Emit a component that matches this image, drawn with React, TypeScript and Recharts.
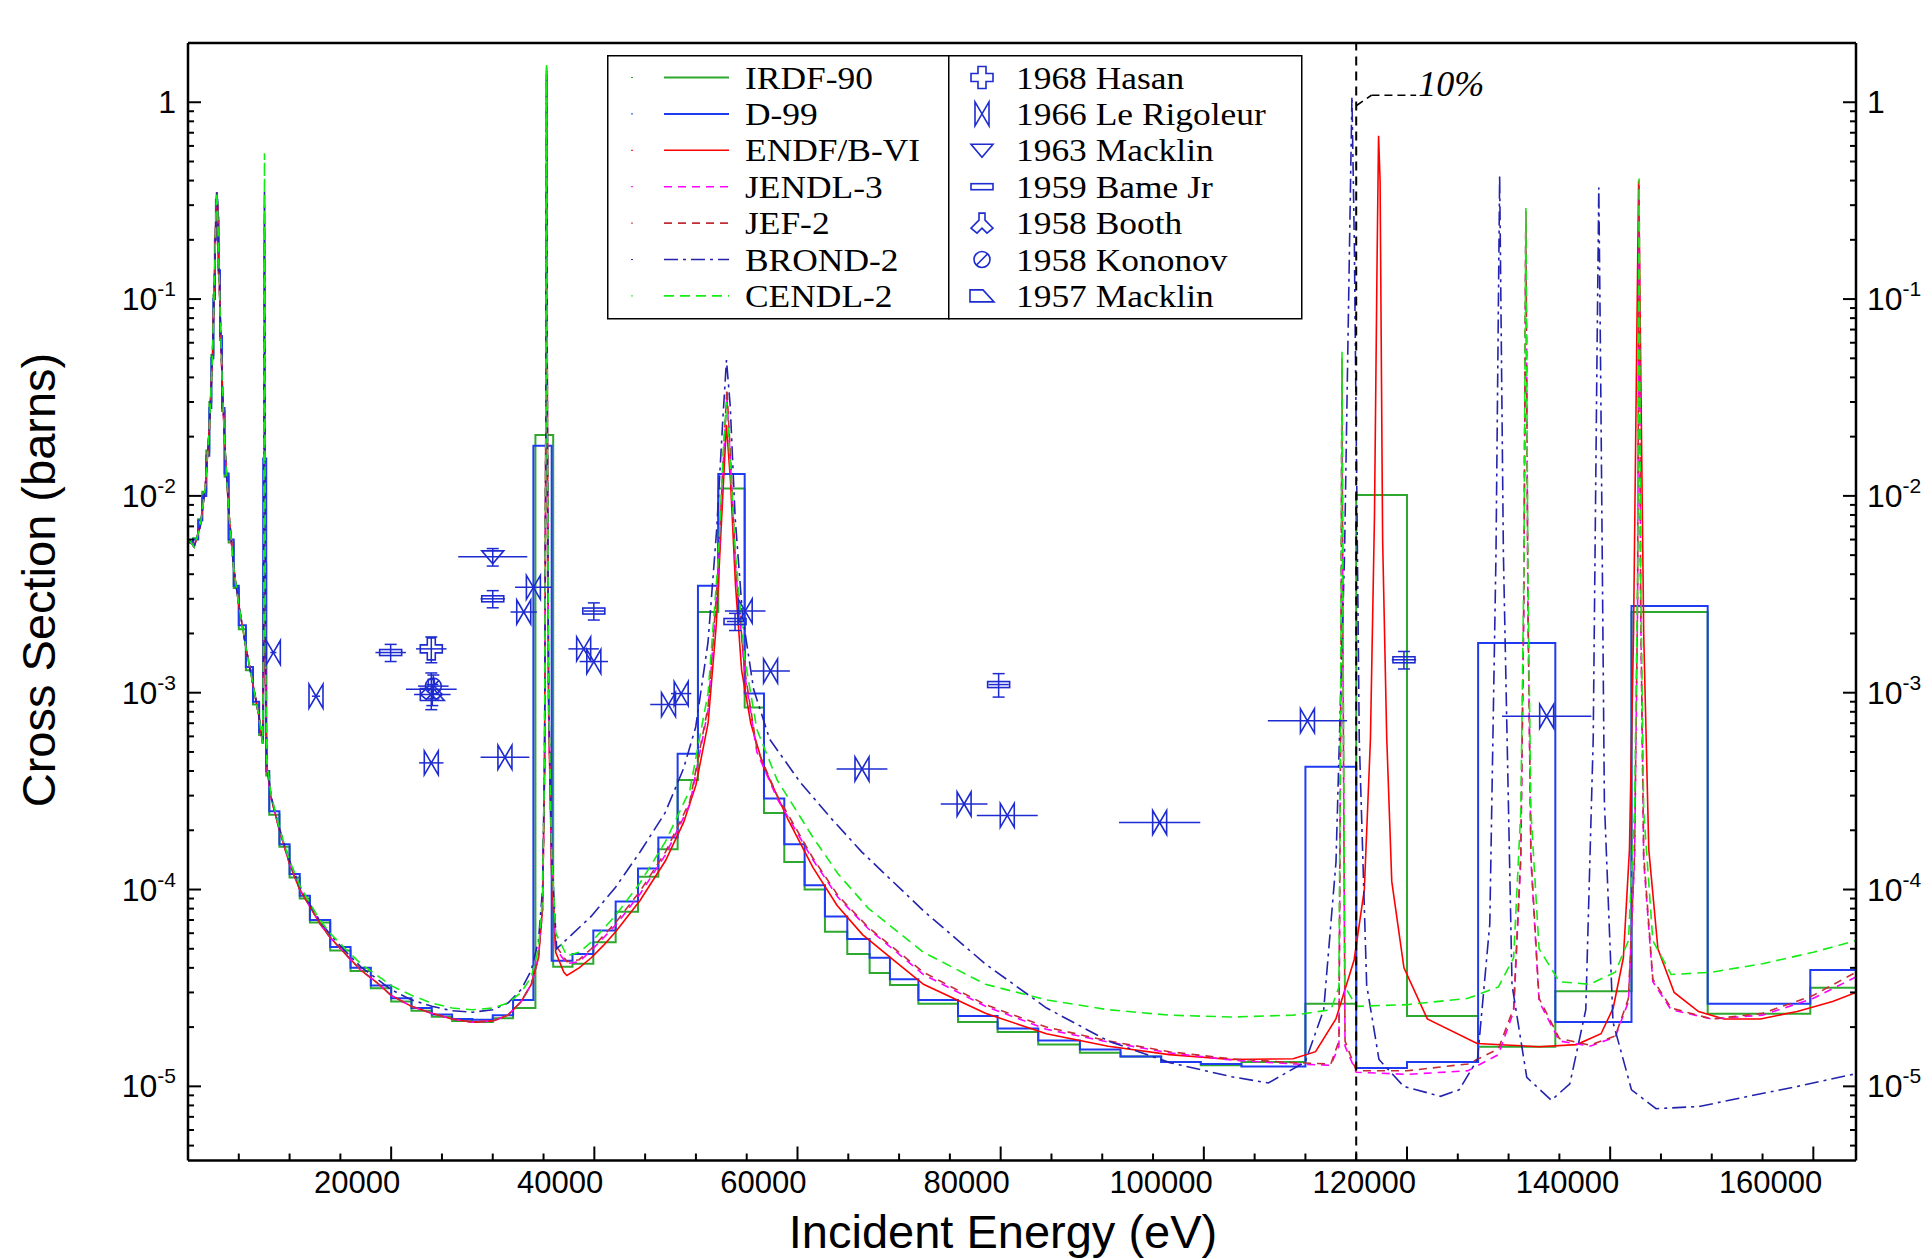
import React from "react";
import {
  ComposedChart,
  Line,
  Scatter,
  XAxis,
  YAxis,
  ErrorBar,
  ReferenceLine,
  Legend,
} from "recharts";

type Pt = [number, number];
type Exp = [number, number, number, number];

// energies in eV, cross sections in barns
const firstResonance: Pt[] = [
  [100, 6.0e-3], [600, 5.5e-3], [1200, 7.0e-3], [1700, 1.1e-2], [2100, 2.2e-2],
  [2400, 5.0e-2], [2600, 0.12], [2750, 0.27], [2830, 0.35], [2900, 0.3],
  [3000, 0.19], [3150, 0.09], [3350, 0.04], [3600, 0.019], [4000, 8.5e-3],
  [4500, 4.3e-3], [5000, 2.8e-3], [5700, 1.7e-3], [6400, 1.1e-3], [7000, 7.5e-4],
  [7350, 5.5e-4],
];

const valleyLow: Pt[] = [
  [8200, 2.9e-4], [9000, 2.0e-4], [10000, 1.35e-4], [11000, 1.0e-4], [12000, 8.2e-5],
  [13000, 6.7e-5], [14000, 5.7e-5], [15500, 4.7e-5], [17000, 3.9e-5], [18500, 3.4e-5],
  [20000, 2.9e-5], [22000, 2.55e-5], [24000, 2.35e-5], [26000, 2.2e-5], [28000, 2.12e-5],
  [30000, 2.15e-5], [31500, 2.3e-5], [32800, 2.7e-5], [33800, 3.3e-5], [34500, 4.5e-5],
  [34900, 8e-5], [35100, 4e-4], [35220, 0.02],
];

const endfHigh: Pt[] = [
  [35300, 1.5], [35380, 0.02], [35500, 8e-4], [35800, 1.2e-4], [36200, 4.8e-5],
  [37000, 3.8e-5], [37300, 3.66e-5], [38500, 4.0e-5], [39700, 4.5e-5], [40900, 5.2e-5],
  [42100, 6.1e-5], [44500, 8.8e-5], [47000, 1.4e-4], [48800, 2.2e-4], [50000, 3.4e-4],
  [51200, 7e-4], [52000, 2.2e-3], [52600, 9e-3], [53000, 0.023], [53400, 0.012],
  [53900, 3.5e-3], [54500, 1.3e-3], [55400, 7e-4], [56600, 4.3e-4], [59100, 2.25e-4],
  [61500, 1.3e-4], [63900, 8.3e-5], [66400, 5.9e-5], [69400, 4.4e-5], [72400, 3.3e-5],
  [78500, 2.35e-5], [84500, 1.85e-5], [90600, 1.6e-5], [96600, 1.45e-5], [102700, 1.37e-5],
  [108800, 1.38e-5], [111000, 1.5e-5], [113000, 2.2e-5], [114800, 4.4e-5], [115800, 1.0e-4],
  [116400, 5.8e-4], [116800, 8e-3], [117050, 0.15], [117200, 0.675], [117350, 0.4],
  [117600, 6e-3], [118000, 6e-4], [118500, 1.1e-4], [119700, 4e-5], [122000, 2.2e-5],
  [126900, 1.65e-5], [133000, 1.59e-5], [136700, 1.63e-5], [139100, 1.85e-5], [140300, 2.5e-5],
  [141300, 4.5e-5], [141900, 1.6e-4], [142300, 2e-3], [142600, 0.05], [142800, 0.4],
  [143000, 0.05], [143300, 2e-3], [143800, 1.6e-4], [144700, 5e-5], [146300, 3.0e-5],
  [148700, 2.4e-5], [151200, 2.2e-5], [154800, 2.2e-5], [158400, 2.4e-5], [161900, 2.7e-5],
  [164200, 3.0e-5],
];

const endfSpike: Pt[] = [[7450, 1.5e-3], [7530, 0.2], [7610, 1.5e-3], [7750, 4.2e-4]];
const jefSpike: Pt[] = [[7450, 1.6e-3], [7530, 0.3], [7610, 1.6e-3], [7750, 4.3e-4]];
const jendlSpike: Pt[] = [[7450, 1.5e-3], [7530, 0.25], [7610, 1.5e-3], [7750, 4.2e-4]];
const cendlSpike: Pt[] = [[7450, 2e-3], [7530, 0.55], [7610, 2e-3], [7750, 4.5e-4]];
const brondSpike: Pt[] = [[7450, 1.8e-3], [7530, 0.35], [7610, 1.8e-3], [7750, 4.4e-4]];

const jefHigh: Pt[] = [
  [35300, 1.45], [35380, 0.02], [35500, 9e-4], [35800, 1.3e-4], [36200, 5.2e-5],
  [37300, 4.3e-5], [38500, 4.4e-5], [39700, 5.0e-5], [42100, 6.8e-5], [44500, 9.8e-5],
  [47000, 1.55e-4], [49400, 2.8e-4], [51200, 8.5e-4], [52200, 4.2e-3], [52700, 0.016],
  [53050, 0.035], [53400, 0.016], [53900, 4.5e-3], [54800, 1.3e-3], [56000, 5.2e-4],
  [58000, 3.0e-4], [61500, 1.45e-4], [64000, 9.3e-5], [67000, 6.4e-5], [72400, 3.8e-5],
  [78500, 2.6e-5], [84500, 2.0e-5], [90600, 1.7e-5], [96600, 1.5e-5], [102700, 1.38e-5],
  [108800, 1.32e-5], [112500, 1.3e-5], [113300, 1.7e-5], [113500, 1.5e-3], [113600, 0.05],
  [113700, 1.5e-3], [113900, 1.7e-5], [115000, 1.2e-5], [120000, 1.2e-5], [126000, 1.3e-5],
  [129000, 1.55e-5], [130500, 2.5e-5], [131200, 1.5e-4], [131500, 3e-3], [131700, 0.28],
  [131900, 3e-3], [132200, 1.5e-4], [133000, 2.8e-5], [135000, 1.75e-5], [138000, 1.62e-5],
  [140500, 1.8e-5], [141800, 2.8e-5], [142400, 1.5e-4], [142700, 3e-3], [142850, 0.38],
  [143000, 3e-3], [143300, 1.5e-4], [144200, 3.5e-5], [146000, 2.5e-5], [150000, 2.2e-5],
  [155000, 2.35e-5], [160000, 2.9e-5], [164200, 3.8e-5],
];

const jendlHigh: Pt[] = [
  [35300, 1.4], [35380, 0.02], [35500, 9e-4], [35800, 1.3e-4], [36200, 5.0e-5],
  [37300, 4.2e-5], [38500, 4.3e-5], [39700, 4.9e-5], [42100, 6.6e-5], [44500, 9.5e-5],
  [47000, 1.5e-4], [49400, 2.7e-4], [51200, 8.2e-4], [52200, 4e-3], [52700, 0.015],
  [53050, 0.032], [53400, 0.015], [53900, 4.3e-3], [54800, 1.25e-3], [56000, 5.0e-4],
  [58000, 2.9e-4], [61500, 1.42e-4], [64000, 9.1e-5], [67000, 6.3e-5], [72400, 3.7e-5],
  [78500, 2.55e-5], [84500, 1.95e-5], [90600, 1.68e-5], [96600, 1.48e-5], [102700, 1.36e-5],
  [108800, 1.3e-5], [112500, 1.28e-5], [113300, 1.6e-5], [113500, 1.4e-3], [113600, 0.045],
  [113700, 1.4e-3], [113900, 1.6e-5], [115000, 1.18e-5], [120000, 1.15e-5], [126000, 1.2e-5],
  [129000, 1.45e-5], [130500, 2.4e-5], [131200, 1.4e-4], [131500, 2.8e-3], [131700, 0.26],
  [131900, 2.8e-3], [132200, 1.4e-4], [133000, 2.7e-5], [135000, 1.7e-5], [138000, 1.6e-5],
  [140500, 1.78e-5], [141800, 2.7e-5], [142400, 1.4e-4], [142700, 2.8e-3], [142850, 0.36],
  [143000, 2.8e-3], [143300, 1.4e-4], [144200, 3.4e-5], [146000, 2.45e-5], [150000, 2.2e-5],
  [155000, 2.3e-5], [160000, 2.8e-5], [164200, 3.6e-5],
];

const cendlValley: Pt[] = [
  [8200, 3.0e-4], [9000, 2.05e-4], [10000, 1.4e-4], [11000, 1.05e-4], [12000, 8.5e-5],
  [13000, 7.0e-5], [14000, 6.0e-5], [15500, 5.0e-5], [17000, 4.2e-5], [18500, 3.7e-5],
  [20000, 3.25e-5], [22000, 2.9e-5], [24000, 2.65e-5], [26000, 2.5e-5], [28000, 2.45e-5],
  [30000, 2.5e-5], [31500, 2.65e-5], [32800, 3.0e-5], [33800, 3.6e-5], [34500, 5e-5],
  [34900, 9e-5], [35100, 4.5e-4], [35220, 0.02],
];

const cendlHigh: Pt[] = [
  [35300, 1.55], [35380, 0.022], [35500, 1e-3], [35800, 1.5e-4], [36200, 6e-5],
  [37300, 4.6e-5], [38500, 4.8e-5], [39700, 5.4e-5], [42100, 7.4e-5], [44500, 1.08e-4],
  [47000, 1.75e-4], [49400, 3.2e-4], [51200, 1.0e-3], [52200, 4.8e-3], [52700, 0.017],
  [53000, 0.03], [53300, 0.017], [53900, 5e-3], [54800, 1.5e-3], [56000, 6.5e-4],
  [58000, 3.6e-4], [61500, 1.85e-4], [64000, 1.2e-4], [67000, 8.0e-5], [72400, 4.8e-5],
  [78500, 3.3e-5], [84500, 2.75e-5], [90600, 2.45e-5], [96600, 2.3e-5], [102700, 2.25e-5],
  [108800, 2.3e-5], [112500, 2.45e-5], [113300, 3.2e-5], [113500, 2e-3], [113600, 0.054],
  [113700, 2e-3], [113900, 3.2e-5], [115000, 2.55e-5], [120000, 2.6e-5], [126000, 2.8e-5],
  [129000, 3.2e-5], [130500, 4.5e-5], [131200, 2.5e-4], [131500, 4e-3], [131700, 0.29],
  [131900, 4e-3], [132200, 2.5e-4], [133000, 5e-5], [135000, 3.4e-5], [138000, 3.3e-5],
  [140500, 3.8e-5], [141800, 5.5e-5], [142400, 2.5e-4], [142700, 4e-3], [142850, 0.41],
  [143000, 4e-3], [143300, 2.5e-4], [144200, 5.5e-5], [146000, 3.7e-5], [150000, 3.8e-5],
  [155000, 4.2e-5], [160000, 4.8e-5], [164200, 5.5e-5],
];

const brondValley: Pt[] = [
  [8200, 2.95e-4], [9000, 2.05e-4], [10000, 1.4e-4], [11000, 1.04e-4], [12000, 8.4e-5],
  [13000, 6.9e-5], [14000, 5.9e-5], [15500, 4.85e-5], [17000, 4.05e-5], [18500, 3.55e-5],
  [20000, 3.1e-5], [22000, 2.75e-5], [24000, 2.55e-5], [26000, 2.42e-5], [28000, 2.38e-5],
  [30000, 2.45e-5], [31500, 2.65e-5], [32800, 3.1e-5], [33800, 3.9e-5], [34500, 5.5e-5],
  [34900, 1e-4], [35100, 4.5e-4], [35220, 0.02],
];

const brondHigh: Pt[] = [
  [35300, 1.4], [35380, 0.02], [35500, 1e-3], [35800, 1.5e-4], [36290, 5.0e-5],
  [39680, 7.3e-5], [42110, 1.03e-4], [44530, 1.56e-4], [46960, 2.45e-4], [48770, 4.1e-4],
  [49980, 6.7e-4], [51190, 1.8e-3], [52040, 6.7e-3], [52650, 0.0245], [53010, 0.049],
  [53380, 0.0285], [53860, 7.8e-3], [54590, 2.46e-3], [55680, 1.04e-3], [57260, 5.8e-4],
  [60280, 3.5e-4], [63310, 2.3e-4], [66340, 1.55e-4], [72400, 7.8e-5], [78460, 4.2e-5],
  [84520, 2.5e-5], [90580, 1.7e-5], [96640, 1.32e-5], [102700, 1.12e-5], [106350, 1.04e-5],
  [109980, 1.33e-5], [111800, 2.45e-5], [113010, 1.38e-4], [113850, 5.06e-3], [114340, 0.185],
  [114580, 1.07], [114820, 0.185], [115300, 5.8e-4], [116030, 3.27e-5], [117240, 1.37e-5],
  [119670, 1.0e-5], [123300, 8.9e-6], [125130, 9.6e-6], [126940, 1.37e-5], [128150, 6.7e-5],
  [128760, 5.06e-3], [129120, 0.425], [129490, 5.06e-3], [130340, 3.27e-5], [131790, 1.11e-5],
  [134210, 8.5e-6], [136030, 1.03e-5], [137600, 2.45e-5], [138330, 5.8e-4], [138690, 0.044],
  [138880, 0.369], [139060, 0.044], [139430, 2.8e-4], [140280, 2.12e-5], [142100, 9.6e-6],
  [144520, 7.7e-6], [148760, 7.9e-6], [153610, 8.9e-6], [158460, 1.0e-5], [164200, 1.16e-5],
];

// group-wise data: [lower bin edge, value]; last entry closes the final bin
const d99Groups: Pt[] = [
  [0, 5.8e-3], [500, 6.0e-3], [1000, 7.5e-3], [1400, 1.0e-2], [1800, 1.6e-2], [2100, 2.8e-2],
  [2300, 5e-2], [2500, 0.1], [2650, 0.2], [2750, 0.32], [2900, 0.26], [3000, 0.14],
  [3150, 0.065], [3350, 0.028], [3600, 0.013], [4000, 6e-3], [4500, 3.5e-3], [5000, 2.2e-3],
  [5700, 1.35e-3], [6400, 9e-4], [7000, 6.3e-4], [7400, 0.0155], [7700, 4.0e-4],
  [8000, 2.5e-4], [9000, 1.7e-4], [10000, 1.2e-4], [11000, 9.3e-5], [12000, 7.0e-5],
  [14000, 5.1e-5], [16000, 4.0e-5], [18000, 3.25e-5], [20000, 2.8e-5], [22000, 2.5e-5],
  [24000, 2.32e-5], [26000, 2.2e-5], [28000, 2.18e-5], [30000, 2.3e-5], [32000, 2.75e-5],
  [34000, 0.018], [35800, 4.35e-5], [37850, 4.7e-5], [39900, 6.2e-5], [42100, 8.7e-5],
  [44300, 1.28e-4], [46300, 1.84e-4], [48200, 4.9e-4], [50200, 3.5e-3], [52200, 0.0129],
  [54800, 9.9e-4], [56700, 2.9e-4], [58700, 1.7e-4], [60700, 1.05e-4], [62700, 7.3e-5],
  [64900, 5.6e-5], [67100, 4.5e-5], [69100, 3.5e-5], [71900, 2.75e-5], [75800, 2.28e-5],
  [79700, 1.97e-5], [83700, 1.71e-5], [87800, 1.54e-5], [91800, 1.42e-5], [95800, 1.33e-5],
  [99700, 1.3e-5], [103700, 1.26e-5], [110000, 4.2e-4], [115000, 1.24e-5], [120000, 1.33e-5],
  [127000, 1.79e-3], [134600, 2.12e-5], [142100, 2.76e-3], [149600, 2.63e-5], [159700, 3.9e-5],
  [164200, 3.9e-5],
];

const irdfGroups: Pt[] = [
  [0, 5.8e-3], [500, 6.1e-3], [1000, 7.6e-3], [1400, 1.05e-2], [1800, 1.7e-2], [2100, 3.0e-2],
  [2300, 5.2e-2], [2500, 0.105], [2650, 0.21], [2750, 0.31], [2900, 0.25], [3000, 0.135],
  [3150, 0.062], [3350, 0.027], [3600, 0.0125], [4000, 5.8e-3], [4500, 3.4e-3], [5000, 2.1e-3],
  [5700, 1.3e-3], [6400, 8.7e-4], [7000, 6.1e-4], [7400, 4.5e-3], [7700, 3.8e-4],
  [8000, 2.4e-4], [9000, 1.65e-4], [10000, 1.15e-4], [11000, 9.0e-5], [12000, 6.8e-5],
  [14000, 4.9e-5], [16000, 3.85e-5], [18000, 3.15e-5], [20000, 2.7e-5], [22000, 2.42e-5],
  [24000, 2.26e-5], [26000, 2.15e-5], [28000, 2.12e-5], [30000, 2.22e-5], [32000, 2.5e-5],
  [34200, 0.0204], [35950, 4.05e-5], [37850, 4.2e-5], [39900, 5.4e-5], [42100, 7.7e-5],
  [44300, 1.16e-4], [46300, 1.6e-4], [48200, 3.6e-4], [50200, 2.57e-3], [52200, 0.0109],
  [54800, 8.4e-4], [56700, 2.45e-4], [58700, 1.38e-4], [60700, 1.0e-4], [62700, 6.1e-5],
  [64900, 4.7e-5], [67100, 3.77e-5], [69100, 3.27e-5], [71900, 2.63e-5], [75800, 2.12e-5],
  [79700, 1.89e-5], [83700, 1.63e-5], [87800, 1.48e-5], [91800, 1.42e-5], [95800, 1.33e-5],
  [99700, 1.28e-5], [103700, 1.33e-5], [110000, 2.63e-5], [115000, 0.0101], [120000, 2.28e-5],
  [127000, 1.59e-5], [134600, 3.04e-5], [142100, 2.57e-3], [149600, 2.34e-5], [159700, 3.17e-5],
  [164200, 3.17e-5],
];

// experiments: [E, sigma, dE, dSigma]
const hasan68: Exp[] = [[23950, 1.67e-3, 1500, 2.5e-4]];
const leRigoleur66: Exp[] = [
  [8400, 1.6e-3, 300, 0], [12600, 9.6e-4, 400, 0], [23950, 4.4e-4, 1200, 0],
  [31200, 4.7e-4, 2400, 0], [33050, 2.57e-3, 1300, 0], [34000, 3.43e-3, 1800, 0],
  [38950, 1.67e-3, 1500, 0], [39950, 1.44e-3, 1400, 0], [47300, 8.7e-4, 1800, 0],
  [48550, 9.9e-4, 1000, 0], [54850, 2.6e-3, 2000, 0], [57350, 1.29e-3, 1900, 0],
  [66350, 4.1e-4, 2500, 0], [76400, 2.72e-4, 2300, 0], [80650, 2.38e-4, 3000, 0],
  [95650, 2.19e-4, 4000, 0], [110200, 7.2e-4, 3900, 0], [133750, 7.6e-4, 4400, 0],
];
const macklin63: Exp[] = [[30000, 4.9e-3, 3400, 5e-4]];
const bame59: Exp[] = [
  [19950, 1.6e-3, 1500, 1.6e-4], [30000, 3.0e-3, 1200, 3e-4], [39950, 2.6e-3, 1000, 2.6e-4],
  [53850, 2.3e-3, 800, 2.3e-4], [79800, 1.1e-3, 1000, 1.5e-4], [119700, 1.47e-3, 1200, 1.5e-4],
];
const booth58: Exp[] = [[23950, 1.04e-3, 2500, 2.2e-4]];
const kononov58: Exp[] = [[24150, 1.08e-3, 1500, 1.5e-4]];
const macklin57: Exp[] = [[24050, 9.8e-4, 1800, 1.2e-4]];

const xTicks = [
  5000, 10000, 15000, 20000, 25000, 30000, 35000, 40000, 45000, 50000, 55000, 60000,
  65000, 70000, 75000, 80000, 85000, 90000, 95000, 100000, 105000, 110000, 115000, 120000,
  125000, 130000, 135000, 140000, 145000, 150000, 155000, 160000,
];
const xLabelled = [20000, 40000, 60000, 80000, 100000, 120000, 140000, 160000];
const yTicks = [
  5e-6, 6e-6, 7e-6, 8e-6, 9e-6,
  1e-5, 2e-5, 3e-5, 4e-5, 5e-5, 6e-5, 7e-5, 8e-5, 9e-5,
  1e-4, 2e-4, 3e-4, 4e-4, 5e-4, 6e-4, 7e-4, 8e-4, 9e-4,
  1e-3, 2e-3, 3e-3, 4e-3, 5e-3, 6e-3, 7e-3, 8e-3, 9e-3,
  1e-2, 2e-2, 3e-2, 4e-2, 5e-2, 6e-2, 7e-2, 8e-2, 9e-2,
  0.1, 0.2, 0.3, 0.4, 0.5, 0.6, 0.7, 0.8, 0.9, 1, 2,
];
const yDecades = [1e-5, 1e-4, 1e-3, 1e-2, 0.1, 1];
const yDecadeLabels = ["-5", "-4", "-3", "-2", "-1", ""];

const lineSeries = [
  { name: "IRDF-90", color: "#2ea82e", width: 2, dash: undefined as string | undefined },
  { name: "D-99", color: "#1f3cf2", width: 2, dash: undefined },
  { name: "ENDF/B-VI", color: "#ff0000", width: 1.6, dash: undefined },
  { name: "JENDL-3", color: "#ff00ff", width: 1.6, dash: "8 6" },
  { name: "JEF-2", color: "#c42d36", width: 1.6, dash: "8 6" },
  { name: "BROND-2", color: "#2323ad", width: 1.6, dash: "14 5 3 5" },
  { name: "CENDL-2", color: "#14ec14", width: 1.6, dash: "10 6" },
];

const SANS = "'Liberation Sans', Arial, Helvetica, sans-serif";
const SERIF = "'Liberation Serif', 'Times New Roman', serif";
const SYM = "#1d2bd0";

const pts = (a: Pt[]) => a.map(([e, s]) => ({ e, s }));
const exps = (a: Exp[]) => a.map(([e, s, ex, ey]) => ({ e, s, ex, ey }));

const endfb6 = [...firstResonance, ...endfSpike, ...valleyLow, ...endfHigh];
const jendl3 = [...firstResonance, ...jendlSpike, ...valleyLow, ...jendlHigh];
const jef2 = [...firstResonance, ...jefSpike, ...valleyLow, ...jefHigh];
const brond2 = [...firstResonance, ...brondSpike, ...brondValley, ...brondHigh];
const cendl2 = [...firstResonance, ...cendlSpike, ...cendlValley, ...cendlHigh];

const seriesData: { [k: string]: Pt[] } = {
  "IRDF-90": irdfGroups,
  "D-99": d99Groups,
  "ENDF/B-VI": endfb6,
  "JENDL-3": jendl3,
  "JEF-2": jef2,
  "BROND-2": brond2,
  "CENDL-2": cendl2,
};

// symbols
function Plus({ cx, cy }: any) {
  return <path d={`M${cx - 4},${cy - 11}h8v7h7v8h-7v7h-8v-7h-7v-8h7z`} fill="none" stroke={SYM} strokeWidth={1.6} />;
}
function BowTie({ cx, cy }: any) {
  return <path d={`M${cx - 7},${cy - 12}L${cx + 7},${cy + 12}L${cx + 7},${cy - 12}L${cx - 7},${cy + 12}Z`} fill="none" stroke={SYM} strokeWidth={1.6} />;
}
function TriDown({ cx, cy }: any) {
  return <path d={`M${cx - 11},${cy - 6}H${cx + 11}L${cx},${cy + 7}Z`} fill="none" stroke={SYM} strokeWidth={1.6} />;
}
function Bar({ cx, cy }: any) {
  return <rect x={cx - 11} y={cy - 3} width={22} height={6} fill="none" stroke={SYM} strokeWidth={1.6} />;
}
function Booth({ cx, cy }: any) {
  return <path d={`M${cx - 3},${cy - 10}h6v7l8,8l-6,5l-5,-5l-5,5l-6,-5l8,-8z`} fill="none" stroke={SYM} strokeWidth={1.6} />;
}
function Kononov({ cx, cy }: any) {
  return (
    <g fill="none" stroke={SYM} strokeWidth={1.6}>
      <circle cx={cx} cy={cy} r={8} />
      <line x1={cx - 5.5} y1={cy + 5.5} x2={cx + 5.5} y2={cy - 5.5} />
    </g>
  );
}
function Trap({ cx, cy }: any) {
  return <path d={`M${cx - 12},${cy - 6}H${cx + 1}L${cx + 12},${cy + 6}H${cx - 12}Z`} fill="none" stroke={SYM} strokeWidth={1.6} />;
}

const expSeries = [
  { name: "1968 Hasan", data: hasan68, Sym: Plus, vBars: true },
  { name: "1966 Le Rigoleur", data: leRigoleur66, Sym: BowTie, vBars: false },
  { name: "1963 Macklin", data: macklin63, Sym: TriDown, vBars: true },
  { name: "1959 Bame Jr", data: bame59, Sym: Bar, vBars: true },
  { name: "1958 Booth", data: booth58, Sym: Booth, vBars: true },
  { name: "1958 Kononov", data: kononov58, Sym: Kononov, vBars: true },
  { name: "1957 Macklin", data: macklin57, Sym: Trap, vBars: true },
];

// ticks (drawn inward, as in the original)
function BottomTick({ x, y, payload }: any) {
  const v = payload.value;
  const major = xLabelled.includes(v);
  return (
    <g>
      <line x1={x} x2={x} y1={y} y2={y - (major ? 14 : 7)} stroke="#000" strokeWidth={2} />
      {major && (
        <text x={x + 9} y={y + 32} textAnchor="end" fontFamily={SANS} fontSize={31} fill="#000">{v}</text>
      )}
    </g>
  );
}
function TopTick({ x, y, payload }: any) {
  const v = payload.value;
  const major = xLabelled.includes(v);
  return (
    <g>
      <line x1={x} x2={x} y1={y} y2={y + (major ? 14 : 7)} stroke="#000" strokeWidth={2} />
      {major && (
        <text x={x + 9} y={y - 6} textAnchor="end" fontFamily={SANS} fontSize={31} fill="#000">{v}</text>
      )}
    </g>
  );
}
function yLabel(v: number) {
  const i = yDecades.indexOf(v);
  if (i < 0) return null;
  if (yDecadeLabels[i] === "") return <tspan fontSize={32}>1</tspan>;
  return (
    <>
      <tspan fontSize={32}>10</tspan>
      <tspan fontSize={21} dy={-14}>{yDecadeLabels[i]}</tspan>
    </>
  );
}
function LeftTick({ x, y, payload }: any) {
  const v = payload.value;
  const major = yDecades.includes(v);
  return (
    <g>
      <line x1={x} x2={x + (major ? 13 : 6)} y1={y} y2={y} stroke="#000" strokeWidth={2} />
      {major && (
        <text x={x - 12} y={y + 11} textAnchor="end" fontFamily={SANS} fill="#000">{yLabel(v)}</text>
      )}
    </g>
  );
}
function RightTick({ x, y, payload }: any) {
  const v = payload.value;
  const major = yDecades.includes(v);
  return (
    <g>
      <line x1={x} x2={x - (major ? 13 : 6)} y1={y} y2={y} stroke="#000" strokeWidth={2} />
      {major && (
        <text x={x + 11} y={y + 11} textAnchor="start" fontFamily={SANS} fill="#000">{yLabel(v)}</text>
      )}
    </g>
  );
}

function XTitle({ viewBox }: any) {
  return (
    <text x={viewBox.x + 815} y={viewBox.y + 87} textAnchor="middle" fontFamily={SANS} fontSize={47} fill="#000">
      Incident Energy (eV)
    </text>
  );
}
function YTitle({ viewBox }: any) {
  return (
    <text transform={`translate(${viewBox.x + 55},${viewBox.y + 537}) rotate(-90)`} textAnchor="middle" fontFamily={SANS} fontSize={47} fill="#000">
      Cross Section (barns)
    </text>
  );
}
function TenPct({ viewBox }: any) {
  return (
    <text x={viewBox.x + viewBox.width + 2} y={viewBox.y + 1} fontFamily={SERIF} fontStyle="italic" fontSize={36} fill="#000">
      10%
    </text>
  );
}

// legend rows are tight in the original; keep glyphs a bit smaller and widen them
function LegendText({ x, y, children }: any) {
  return (
    <text transform={`translate(${x},${y}) scale(1.09,1)`} fontFamily={SERIF} fontSize={32.5} fill="#000">
      {children}
    </text>
  );
}

function LegendPanel() {
  const rowY = (i: number) => 22.5 + i * 36.4;
  return (
    <svg width={698} height={266} style={{ display: "block" }}>
      <rect x={0.75} y={0.75} width={341} height={263} fill="#fff" stroke="#000" strokeWidth={1.5} />
      <rect x={341.75} y={0.75} width={353} height={263} fill="#fff" stroke="#000" strokeWidth={1.5} />
      {lineSeries.map((s, i) => (
        <g key={s.name}>
          <line x1={24} x2={26} y1={rowY(i)} y2={rowY(i)} stroke={s.color} strokeWidth={1} />
          <line x1={57} x2={122} y1={rowY(i)} y2={rowY(i)} stroke={s.color} strokeWidth={s.width} strokeDasharray={s.dash} />
          <LegendText x={138} y={rowY(i) + 11}>{s.name}</LegendText>
        </g>
      ))}
      {expSeries.map((s, i) => (
        <g key={s.name}>
          <s.Sym cx={375} cy={rowY(i)} />
          <LegendText x={409} y={rowY(i) + 11}>{s.name}</LegendText>
        </g>
      ))}
    </svg>
  );
}

export default function App() {
  return (
    <div style={{ position: "absolute", left: 0, top: 0, width: 1932, height: 1259, background: "#fff" }}>
      <ComposedChart width={1932} height={1259} margin={{ top: 0, right: 0, bottom: 0, left: 0 }}>
        <XAxis
          dataKey="e"
          type="number"
          domain={[0, 164200]}
          allowDataOverflow
          ticks={xTicks}
          interval={0}
          height={98.5}
          tickSize={0}
          tickMargin={0}
          tickLine={false}
          tick={<BottomTick />}
          axisLine={{ stroke: "#000", strokeWidth: 2.5 }}
          label={<XTitle />}
        />
        <XAxis
          xAxisId="top"
          orientation="top"
          type="number"
          domain={[0, 164200]}
          allowDataOverflow
          ticks={xTicks}
          interval={0}
          height={43}
          tickSize={0}
          tickMargin={0}
          tickLine={false}
          tick={<TopTick />}
          axisLine={{ stroke: "#000", strokeWidth: 2.5 }}
        />
        <YAxis
          dataKey="s"
          type="number"
          scale="log"
          domain={[4.2e-6, 2]}
          allowDataOverflow
          ticks={yTicks}
          interval={0}
          width={188}
          tickSize={0}
          tickMargin={0}
          tickLine={false}
          tick={<LeftTick />}
          axisLine={{ stroke: "#000", strokeWidth: 2.5 }}
          label={<YTitle />}
        />
        <YAxis
          yAxisId="right"
          orientation="right"
          type="number"
          scale="log"
          domain={[4.2e-6, 2]}
          allowDataOverflow
          ticks={yTicks}
          interval={0}
          width={76}
          tickSize={0}
          tickMargin={0}
          tickLine={false}
          tick={<RightTick />}
          axisLine={{ stroke: "#000", strokeWidth: 2.5 }}
        />

        {lineSeries.map((s) => (
          <Line
            key={s.name}
            data={pts(seriesData[s.name])}
            dataKey="s"
            type={s.name === "IRDF-90" || s.name === "D-99" ? "stepAfter" : "linear"}
            stroke={s.color}
            strokeWidth={s.width}
            strokeDasharray={s.dash}
            dot={false}
            activeDot={false}
            isAnimationActive={false}
          />
        ))}

        {expSeries.map((s) => (
          <Scatter
            key={s.name}
            data={exps(s.data)}
            isAnimationActive={false}
            shape={(p: any) => <s.Sym cx={p.cx} cy={p.cy} />}
          >
            <ErrorBar dataKey="ex" direction="x" width={0} stroke={SYM} strokeWidth={1.5} isAnimationActive={false} />
            {s.vBars && (
              <ErrorBar dataKey="ey" direction="y" width={6} stroke={SYM} strokeWidth={1.5} isAnimationActive={false} />
            )}
          </Scatter>
        ))}

        <ReferenceLine x={115000} stroke="#000" strokeWidth={2} strokeDasharray="9 6" />
        <ReferenceLine
          segment={[{ x: 115000, y: 0.96 }, { x: 116500, y: 1.085 }]}
          stroke="#000"
          strokeWidth={1.6}
          strokeDasharray="8 5"
        />
        <ReferenceLine
          segment={[{ x: 116500, y: 1.085 }, { x: 120900, y: 1.085 }]}
          stroke="#000"
          strokeWidth={1.6}
          strokeDasharray="8 5"
          label={<TenPct />}
        />

        <Legend
          layout="vertical"
          align="center"
          verticalAlign="middle"
          content={() => <LegendPanel />}
          wrapperStyle={{ left: 607, top: 55, width: 698, height: 266 }}
        />
      </ComposedChart>
    </div>
  );
}
